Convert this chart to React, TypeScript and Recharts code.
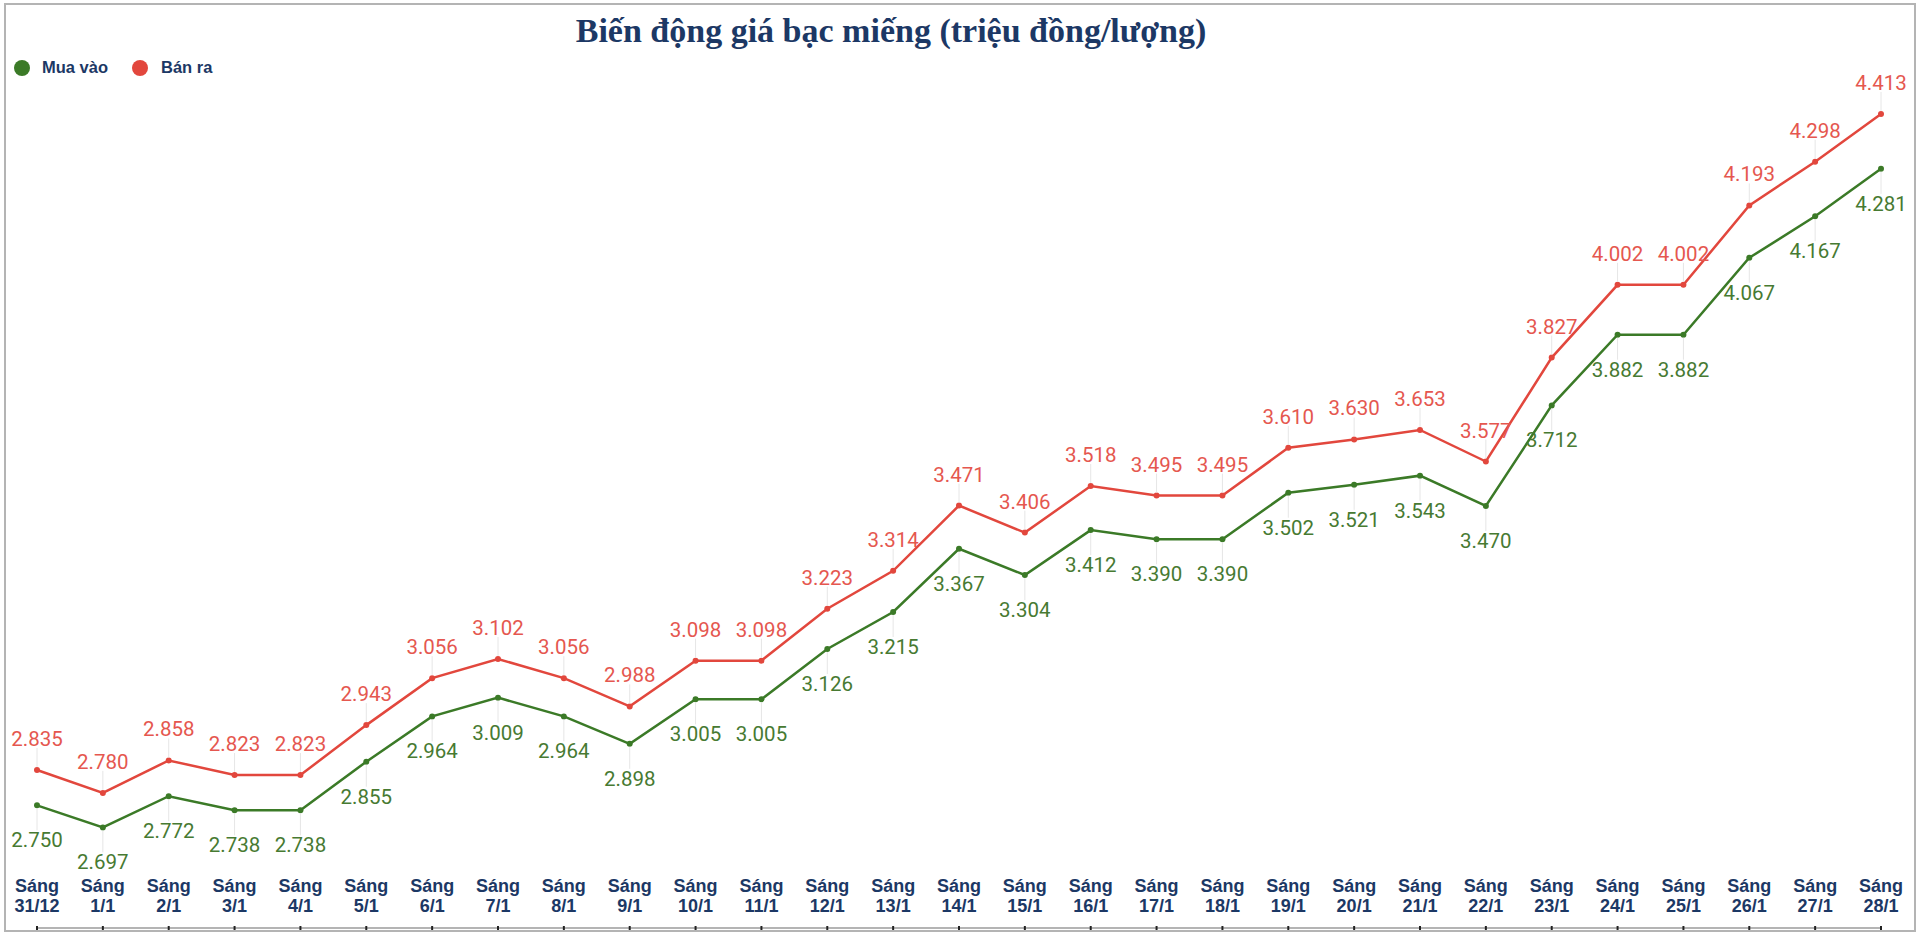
import React from "react";
import { LineChart, Line, XAxis, YAxis, LabelList } from "recharts";

const dates = [
    "31/12", "1/1", "2/1", "3/1", "4/1", "5/1", "6/1", "7/1", "8/1", "9/1",
    "10/1", "11/1", "12/1", "13/1", "14/1", "15/1", "16/1", "17/1", "18/1", "19/1",
    "20/1", "21/1", "22/1", "23/1", "24/1", "25/1", "26/1", "27/1", "28/1",
];

const muaVao = [
    2.75, 2.697, 2.772, 2.738, 2.738, 2.855, 2.964, 3.009, 2.964, 2.898,
    3.005, 3.005, 3.126, 3.215, 3.367, 3.304, 3.412, 3.39, 3.39, 3.502,
    3.521, 3.543, 3.47, 3.712, 3.882, 3.882, 4.067, 4.167, 4.281,
];

const banRa = [
    2.835, 2.78, 2.858, 2.823, 2.823, 2.943, 3.056, 3.102, 3.056, 2.988,
    3.098, 3.098, 3.223, 3.314, 3.471, 3.406, 3.518, 3.495, 3.495, 3.61,
    3.63, 3.653, 3.577, 3.827, 4.002, 4.002, 4.193, 4.298, 4.413,
];

const GREEN = "#3b7a27";
const RED = "#e2473d";
const NAVY = "#1c3865";

const data = dates.map((d, i) => ({ day: d, mua: muaVao[i], ban: banRa[i] }));

const fmt = (v: number) => v.toFixed(3);

const tickFont = { fontFamily: "Liberation Sans, Arial, sans-serif", fontWeight: 700, fontSize: 18 };
const numFont = { fontFamily: "Roboto, sans-serif", fontSize: 20.5 };

const DayTick = (props: any) => {
    const { x, y, payload } = props;
    return (
        <g>
            <line x1={x} x2={x} y1={y - 2} y2={y + 2} stroke="#222" strokeWidth={2} />
            <text x={x} y={y - 36} textAnchor="middle" fill={NAVY} style={tickFont}>
                Sáng
            </text>
            <text x={x} y={y - 16} textAnchor="middle" fill={NAVY} style={tickFont}>
                {payload.value}
            </text>
        </g>
    );
};

const TopLabel = (props: any) => {
    const { x, y, value } = props;
    return (
        <g>
            <line x1={x} x2={x} y1={y - 3} y2={y - 22} stroke="#e6e6e6" strokeWidth={1} />
            <text x={x} y={y - 24} textAnchor="middle" fill="#e5574f" style={numFont}>
                {fmt(value)}
            </text>
        </g>
    );
};

const BottomLabel = (props: any) => {
    const { x, y, value } = props;
    return (
        <g>
            <line x1={x} x2={x} y1={y + 3} y2={y + 25} stroke="#e6e6e6" strokeWidth={1} />
            <text x={x} y={y + 42} textAnchor="middle" fill="#477a32" style={numFont}>
                {fmt(value)}
            </text>
        </g>
    );
};

const dotStyle = (c: string) => ({ r: 3, fill: c, stroke: c, strokeWidth: 0 });

export default function App() {
    return (
        <div style={{ position: "absolute", left: 0, top: 0, width: 1918, height: 935, background: "#fff" }}>
            <div style={{
                position: "absolute", left: 4, top: 3, width: 1908, height: 925,
                border: "2px solid #b4b4b4",
            }} />
            <div style={{
                position: "absolute", left: 0, top: 12, width: 1782, textAlign: "center",
                fontFamily: "Liberation Serif, Times New Roman, serif", fontWeight: 700,
                fontSize: 34, color: NAVY, whiteSpace: "nowrap",
            }}>
                Biến động giá bạc miếng (triệu đồng/lượng)
            </div>
            <div style={{
                position: "absolute", left: 14, top: 58, display: "flex", alignItems: "center",
                fontFamily: "Liberation Sans, Arial, sans-serif", fontWeight: 700, fontSize: 16.5, color: NAVY,
            }}>
                <span style={{ width: 16, height: 16, borderRadius: 8, background: GREEN, display: "inline-block", marginRight: 12 }} />
                <span style={{ marginRight: 24 }}>Mua vào</span>
                <span style={{ width: 16, height: 16, borderRadius: 8, background: RED, display: "inline-block", marginRight: 13 }} />
                <span>Bán ra</span>
            </div>
            <div style={{ position: "absolute", left: 0, top: 0 }}>
                <LineChart width={1918} height={935} data={data}
                    margin={{ top: 10, right: 37, bottom: 0, left: 37 }}>
                    <XAxis dataKey="day" height={7} axisLine={{ stroke: "#b4b4b4", strokeWidth: 2 }}
                        tickLine={false} tickSize={0} tickMargin={0} tick={<DayTick />} interval={0} />
                    <YAxis hide domain={[2.455, 4.663]} />
                    <Line dataKey="ban" stroke={RED} strokeWidth={2.5} isAnimationActive={false}
                        dot={dotStyle(RED)}>
                        <LabelList dataKey="ban" content={<TopLabel />} />
                    </Line>
                    <Line dataKey="mua" stroke={GREEN} strokeWidth={2.5} isAnimationActive={false}
                        dot={dotStyle(GREEN)}>
                        <LabelList dataKey="mua" content={<BottomLabel />} />
                    </Line>
                </LineChart>
            </div>
        </div>
    );
}
